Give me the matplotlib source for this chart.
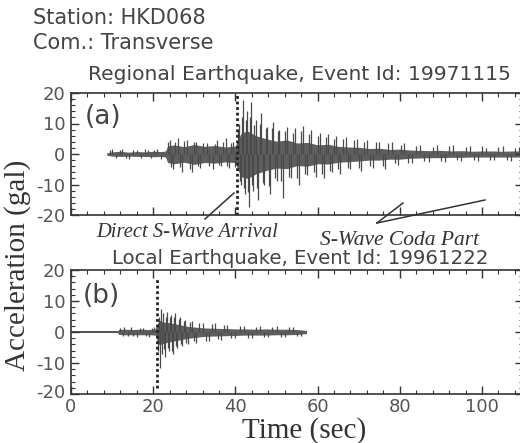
import numpy as np
import matplotlib
matplotlib.use("Agg")
import matplotlib.pyplot as plt
from matplotlib.ticker import MultipleLocator
from matplotlib.lines import Line2D
from matplotlib.transforms import ScaledTranslation

# ---- data (gal vs sec) ----
# (a) regional event: core envelope of the trace
reg_env_t  = [8.7, 10, 12, 14, 16, 18, 20, 22, 23, 23.5, 25, 27.5, 30, 32.5, 35, 37.5, 40, 40.5, 41.5,
              43, 45, 47.5, 50, 52.5, 55, 57.5, 60, 62.5, 65, 67.5, 70, 72.5, 75, 77.5, 80, 82.5, 85,
              87.5, 90, 92.5, 95, 97.5, 100, 102.5, 105, 107.5, 110]
reg_env_hi = [0.4, 0.7, 0.9, 0.6, 0.8, 0.7, 0.9, 0.8, 1.0, 2.6, 3.0, 2.4, 3.1, 2.5, 2.8, 2.3, 2.6, 4.5, 7.0,
              7.5, 6.0, 5.0, 4.2, 4.6, 3.6, 3.8, 3.0, 3.2, 2.5, 2.3, 2.2, 1.8, 1.9, 1.5, 1.6, 1.3, 1.2,
              1.1, 1.2, 1.0, 1.1, 0.9, 1.0, 1.0, 0.9, 1.0, 1.0]
reg_env_lo = [-0.4, -0.7, -0.8, -0.7, -0.8, -0.8, -0.9, -0.8, -1.0, -2.8, -3.2, -2.7, -3.4, -2.8, -3.0, -2.6, -2.8, -5.0, -7.5,
              -8.0, -6.5, -5.4, -4.6, -4.8, -3.8, -4.0, -3.2, -3.3, -2.7, -2.5, -2.3, -2.0, -2.0, -1.7, -1.7, -1.4, -1.3,
              -1.2, -1.2, -1.1, -1.1, -1.0, -1.0, -1.0, -1.0, -1.0, -1.0]
# (a) individual peaks sticking out of the envelope
reg_pk_t = [9.5, 10, 11, 11.8, 12.5, 13.3, 14, 15, 16, 17, 18, 18.8, 19.5, 20.3, 21, 22,
            23.6, 24, 24.4, 24.8, 25.4, 26, 26.5, 27, 27.6, 28.3, 28.9, 29.5, 30, 30.5, 31, 31.5,
            32.2, 33, 33.6, 34.5, 35, 35.5, 36, 36.5, 37, 37.6, 38, 38.5, 39, 39.5, 40,
            40.6, 40.8, 41.1, 41.3, 41.6, 41.9, 42.1, 42.3, 42.6, 42.8, 43.0, 43.2, 43.5, 43.8, 44.0, 44.3,
            44.6, 45, 45.3, 45.5, 45.9, 46.3, 46.6, 47, 47.4, 47.8, 48.1, 48.5, 48.8, 49.2, 49.6, 50,
            50.4, 50.7, 51.1, 51.5, 52, 52.5, 53, 53.5, 54, 54.5, 55, 55.5, 56, 56.5, 57, 57.3, 58, 58.5,
            59, 59.5, 60, 60.5, 61, 61.5, 62, 62.5, 63, 63.5, 64, 64.5, 65, 65.5, 66.2, 67, 67.5, 68,
            68.8, 69.5, 70, 70.5, 71.2, 72, 72.8, 73.5, 74.2, 75, 75.8, 76.5, 77.2, 78, 78.8, 79.5,
            80.2, 81, 82, 83, 84, 85, 86, 87, 88, 89, 90, 91, 92, 93, 94, 95, 96, 97, 98, 99,
            100, 101, 102, 103, 104, 105, 106, 107, 108, 109]
reg_pk_v = [1.2, 1.5, -1.2, 1.3, 1.6, -1.3, -1.5, 1.2, 1.4, -1.2, 1.7, 1.3, -1.4, 1.2, 1.8, -1.6,
            4.0, 4.5, -4.2, -5.0, 3.8, 5.2, -4.4, -6.0, 4.2, 4.6, -4.8, -5.8, 3.9, 4.0, -3.8, -4.5,
            3.6, 3.5, -3.9, -5.0, 3.4, 4.5, -3.6, -4.0, 3.8, 5.3, -3.8, -4.5, 3.5, 4.0, -4.2,
            8.0, 10.0, -9.0, -10.0, 12.0, 17.8, -11.0, -13.0, 11.0, 14.0, -12.5, -17.5, 12.0, 17.0, -10.0, -12.0,
            9.5, 11.0, -11.0, -15.0, 10.0, 13.5, -9.5, -10.0, 8.5, 9.0, -10.5, -13.0, 8.5, 10.5, -8.0, -9.0,
            7.5, 8.0, -9.0, -14.5, 7.5, 9.0, -7.5, -8.0, 7.0, 8.5, -8.0, -10.0, 7.5, 9.2, -6.5, -7.0, 6.5, 8.0,
            -6.0, -7.5, 6.0, 7.0, -6.5, -8.0, 5.5, 6.5, -5.5, -6.0, 5.0, 6.0, -5.0, -6.5, 5.0, 5.5, -4.5, -5.0,
            4.5, 5.0, -4.5, -5.5, 4.0, 4.5, -4.0, -4.5, 3.8, 4.0, -4.0, -5.0, 3.5, 4.0, -3.0, -3.5,
            3.0, 3.5, -2.8, -3.0, 2.6, 3.0, -2.4, -2.5, 2.4, 2.8, -2.2, -2.5, 2.5, 3.0, -2.0, -2.2, 2.2, 2.5, -2.0, -2.3,
            2.6, 2.0, -2.0, -2.0, 2.3, 2.5, -1.9, -2.2, 2.1, 2.4]

# (b) local event
loc_quiet_t = [0, 11.4]
loc_quiet_v = [0, 0]
loc_env_t  = [11.4, 11.6, 13, 15, 17, 19, 20.5, 21, 21.5, 22.5, 24, 25.5, 27, 28.5, 30, 32.5, 35, 37.5,
              40, 42.5, 45, 47.5, 50, 52.5, 55, 57.3]
loc_env_hi = [0.3, 0.8, 0.9, 0.8, 0.9, 0.8, 1.0, 2.5, 3.8, 3.2, 3.0, 2.6, 2.2, 1.8, 1.6, 1.3, 1.2, 1.1,
              1.0, 1.0, 0.9, 1.0, 0.9, 0.9, 0.8, 0.5]
loc_env_lo = [-0.3, -0.8, -0.9, -0.9, -0.9, -0.9, -1.0, -2.8, -4.2, -3.6, -3.2, -2.8, -2.4, -2.0, -1.8, -1.4, -1.3, -1.2,
              -1.1, -1.0, -1.0, -1.0, -0.9, -0.9, -0.8, -0.5]
loc_pk_t = [12, 12.6, 13, 13.8, 14.5, 15.2, 16, 16.8, 17.5, 18.2, 19, 19.7, 20.3,
            21.1, 21.3, 21.6, 21.9, 22.1, 22.4, 22.6, 22.8, 23.1, 23.3, 23.6, 23.8, 24.1, 24.3, 24.6, 24.8,
            25.1, 25.3, 25.6, 25.9, 26.2, 26.5, 26.8, 27, 27.4, 27.7, 28.1, 28.5, 29, 29.5, 30, 30.5,
            31.2, 32, 32.8, 33.5, 34.2, 35, 35.8, 36.5, 37.2, 38, 39, 40, 41, 42, 43, 44, 45, 46, 47, 48,
            49, 50, 51, 52, 53, 54, 55, 56]
loc_pk_v = [1.3, -1.2, 1.5, -1.3, 1.6, -1.2, -1.5, 1.3, 1.4, -1.2, -1.6, 1.2, 1.5,
            -6.0, 5.0, -11.5, 7.3, -7.0, 6.0, -5.5, -8.0, 5.0, 6.5, -5.0, -6.0, 5.0, 5.5, -6.0, -7.0,
            4.8, 6.2, -4.5, -5.0, 4.2, 5.0, -3.8, -4.5, 3.6, 4.0, -3.5, -4.0, 3.2, 3.5, -3.0, -3.5,
            2.8, 3.0, -2.8, -3.0, 2.5, 2.8, -2.3, -2.5, 2.2, 2.3, -2.0, -2.0, 1.9, 2.0, -1.8, -1.8, 1.7, 1.9, -1.6, -1.6,
            1.6, 1.8, -1.5, -1.5, 1.5, 1.7, -1.3, -1.4]

reg_arrival = 40.3
loc_arrival = 20.9

W, H = 520, 443
fig = plt.figure(figsize=(W / 100, H / 100), dpi=100)

def fx(px):
    return px / W

def fy(py):
    return 1 - py / H

trace_col = '#4a4a4a'
env_col = '#5e5e5e'
tick_col = '#555555'

ax1 = fig.add_axes([fx(71), fy(215), 1.006 - fx(71), fy(93) - fy(215)])
ax2 = fig.add_axes([fx(71), fy(394), 1.006 - fx(71), fy(270) - fy(394)])

def style(ax):
    ax.set_xlim(0, 110)
    ax.set_ylim(-20, 20)
    ax.xaxis.set_major_locator(MultipleLocator(20))
    ax.xaxis.set_minor_locator(MultipleLocator(4))
    ax.yaxis.set_major_locator(MultipleLocator(10))
    ax.yaxis.set_minor_locator(MultipleLocator(2))
    ax.tick_params(which='both', direction='in', top=True, right=True, colors='#333333',
                   labelcolor=tick_col, labelsize=13)
    ax.tick_params(which='major', length=6, width=1)
    ax.tick_params(which='minor', length=3, width=0.8)
    ax.tick_params(axis='y', pad=4)
    for s in ax.spines.values():
        s.set_color('#333333')
        s.set_linewidth(1.2)
    ax.set_yticks([-20, -10, 0, 10, 20])
    ax.set_yticklabels(['-20', '-10', '0', '10', '20'])

style(ax1)
style(ax2)
ax1.set_xticklabels([])
ax2.tick_params(axis='x', pad=3)

# regional trace
ax1.fill_between(reg_env_t, reg_env_lo, reg_env_hi, color=env_col, lw=0)
ax1.vlines(reg_pk_t, 0, reg_pk_v, color=trace_col, lw=0.9)
ax1.axvline(reg_arrival, color='#222222', ls=(0, (1, 1)), lw=2)

# local trace
ax2.plot(loc_quiet_t, loc_quiet_v, color='#333333', lw=1.2)
ax2.fill_between(loc_env_t, loc_env_lo, loc_env_hi, color=env_col, lw=0)
ax2.vlines(loc_pk_t, 0, loc_pk_v, color=trace_col, lw=0.9)
ax2.vlines(loc_arrival, -18, 17.5, color='#222222', ls=(0, (1, 1)), lw=2)

ax1.text(0.03, 0.80, '(a)', transform=ax1.transAxes, fontsize=19, color='#444444', va='center')
ax2.text(0.025, 0.79, '(b)', transform=ax2.transAxes, fontsize=19, color='#444444', va='center')

# header text
sans = dict(family='DejaVu Sans', color='#444444')
fig.text(fx(33), fy(18), 'Station: HKD068', fontsize=15, va='center', **sans)
fig.text(fx(33), fy(43), 'Com.: Transverse', fontsize=15, va='center', **sans)
fig.text(fx(299), fy(75), 'Regional Earthquake, Event Id: 19971115', fontsize=14.6, ha='center', va='center', **sans)
fig.text(fx(300), fy(258), 'Local Earthquake, Event Id: 19961222', fontsize=14.2, ha='center', va='center', **sans)

serif = dict(family='Liberation Serif', color='#333333')
fig.text(fx(18), fy(265), 'Acceleration (gal)', fontsize=21, rotation=90, ha='center', va='center', **serif)
fig.text(fx(304), fy(431), 'Time (sec)', fontsize=21, ha='center', va='center', **serif)
fig.text(fx(187), fy(233), 'Direct S-Wave Arrival', fontsize=14.8, style='italic', ha='center', va='center', **serif)
fig.text(fx(400), fy(240), 'S-Wave Coda Part', fontsize=15.5, style='italic', ha='center', va='center', **serif)

# pointer lines
for (x0, y0, x1, y1) in [(205, 219, 234, 193), (377, 223, 403, 203), (377, 223, 485, 200)]:
    fig.add_artist(Line2D([fx(x0), fx(x1)], [fy(y0), fy(y1)], color='#333333', lw=1.1))

# nudge the bottom "-20" up a few pixels so it clears the "0" of the time axis
lab = ax2.yaxis.get_major_ticks()[0].label1
lab.set_transform(lab.get_transform() + ScaledTranslation(0, 3 / 100, fig.dpi_scale_trans))

fig.savefig('out.png', dpi=100)
